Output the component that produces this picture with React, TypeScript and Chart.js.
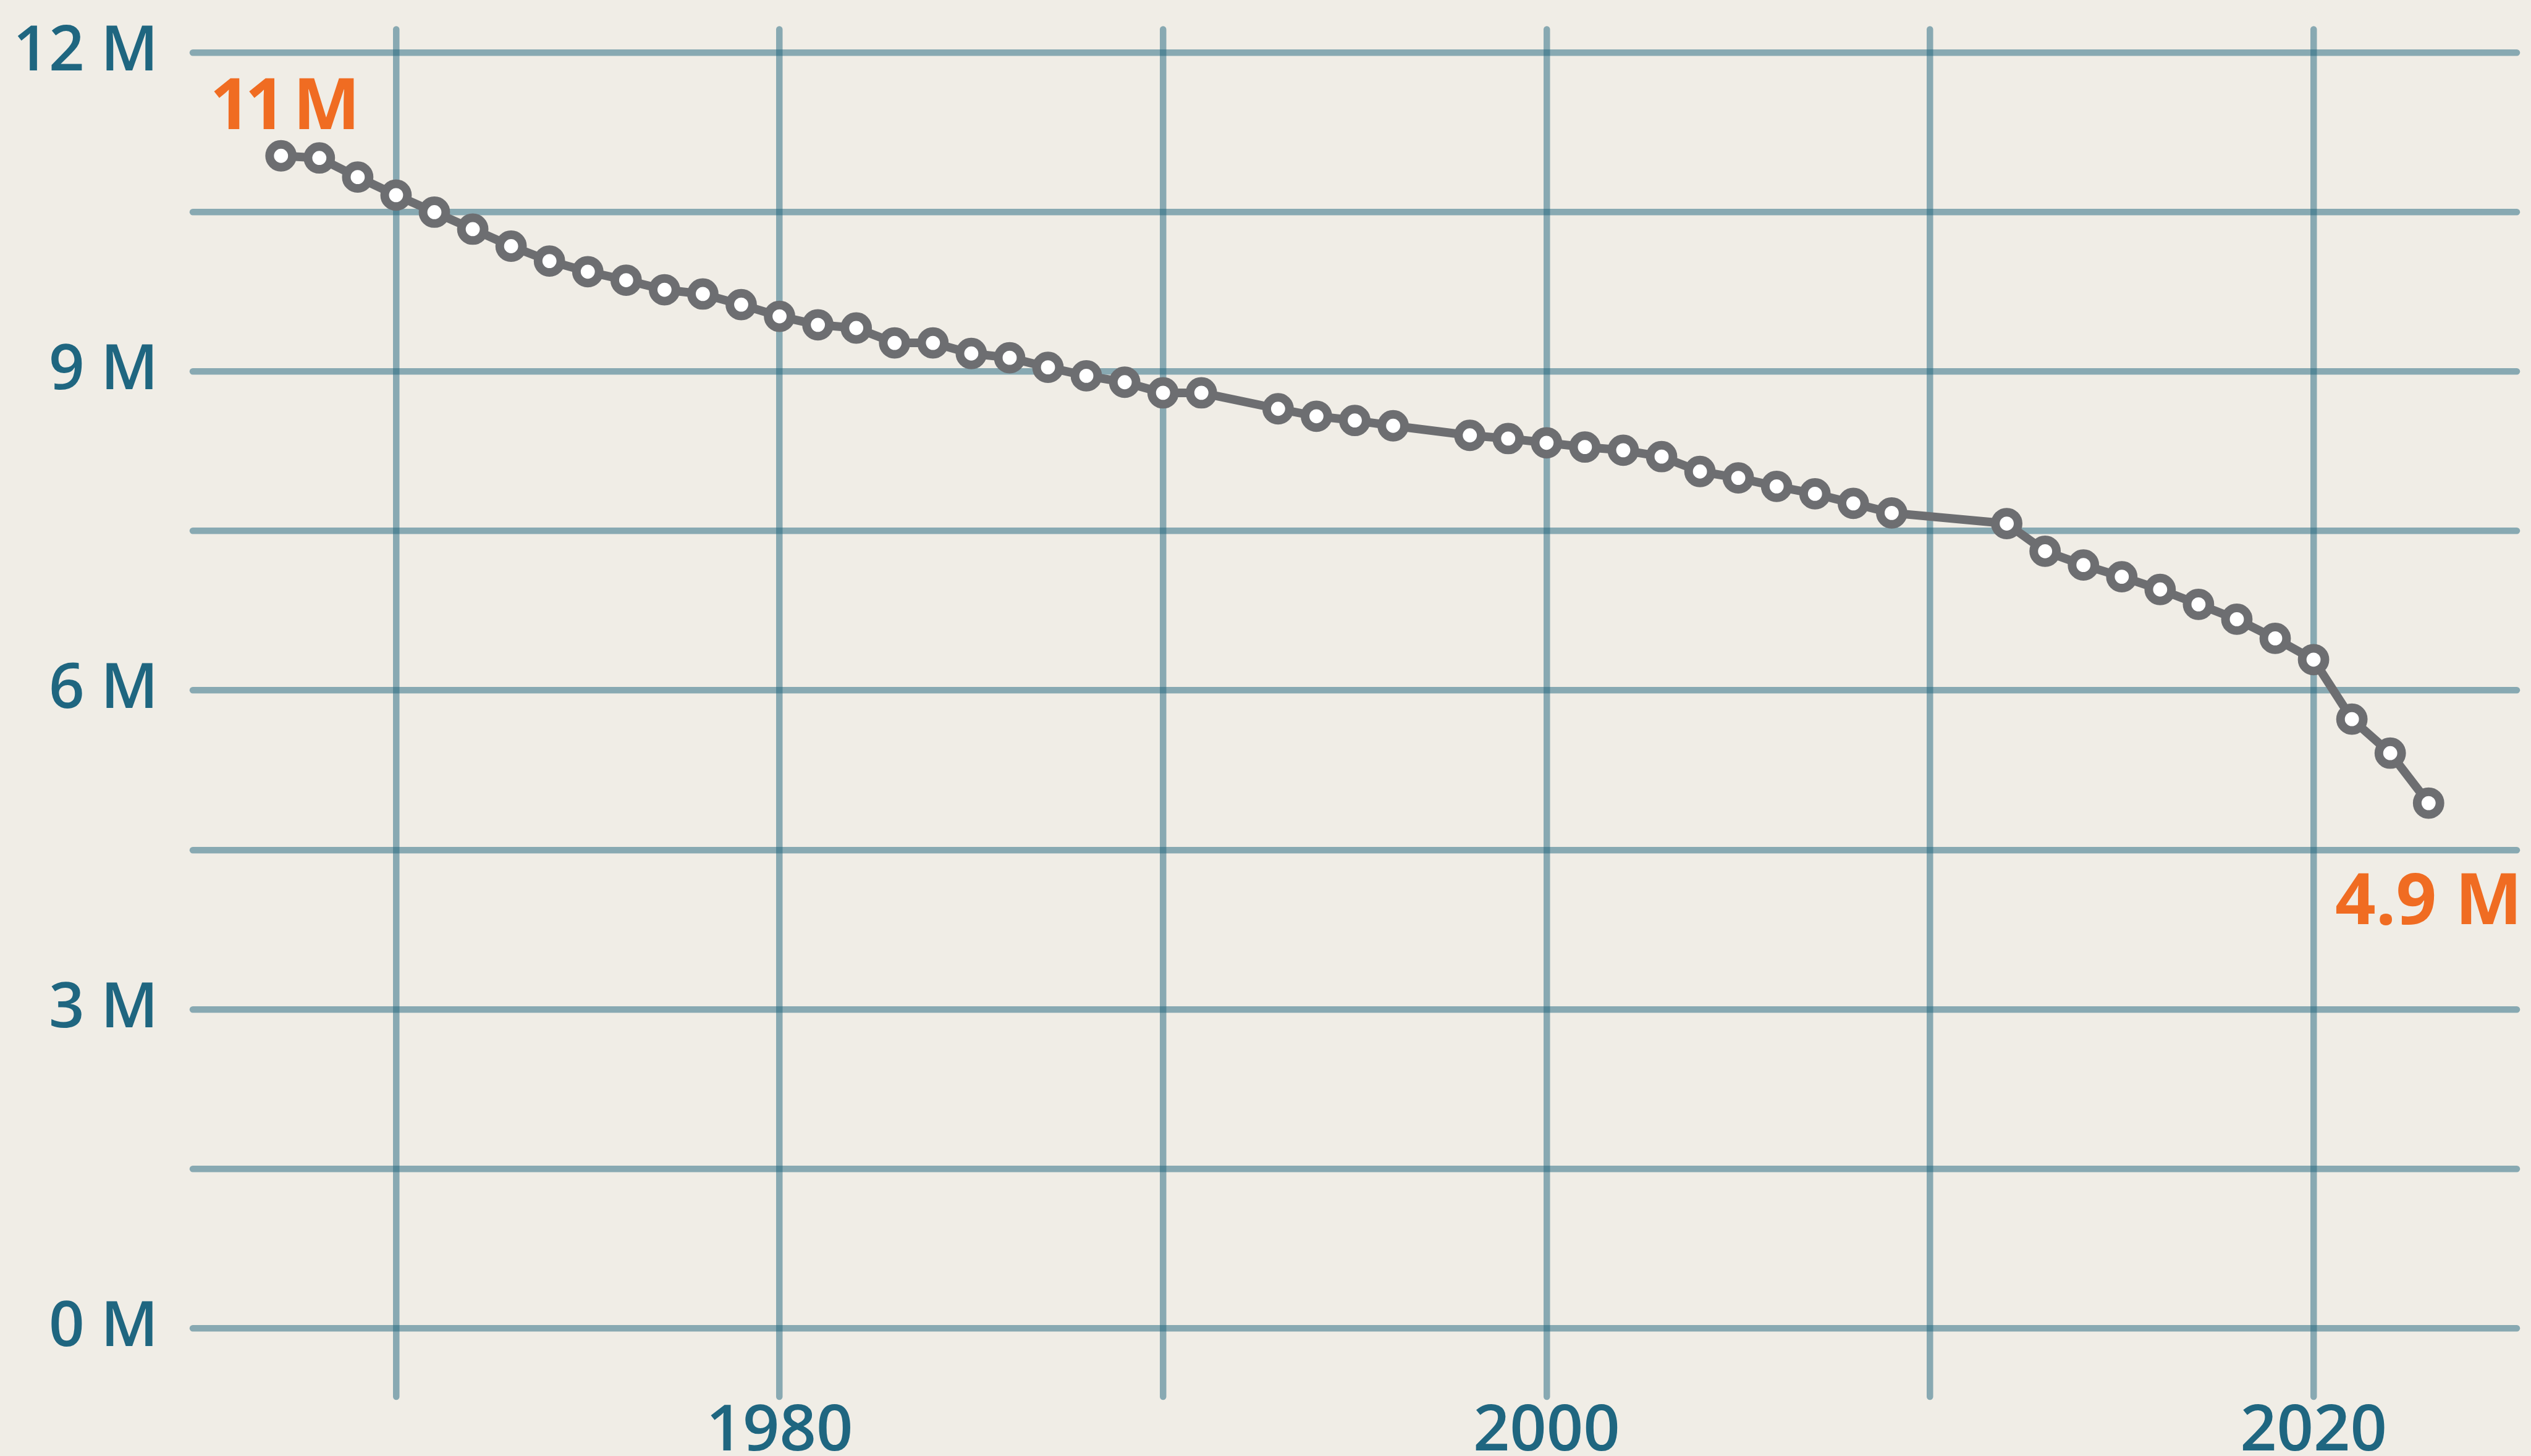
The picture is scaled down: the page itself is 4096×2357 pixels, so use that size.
import React, { useEffect, useRef } from "react";
import { Chart, registerables } from "chart.js";

Chart.register(...registerables);

// ---- Data (population, millions) ----
const years = [
  1967, 1968, 1969, 1970, 1971, 1972, 1973, 1974, 1975, 1976, 1977, 1978, 1979,
  1980, 1981, 1982, 1983, 1984, 1985, 1986, 1987, 1988, 1989, 1990, 1991,
  1993, 1994, 1995, 1996,
  1998, 1999, 2000, 2001, 2002, 2003, 2004, 2005, 2006, 2007, 2008, 2009,
  2012, 2013, 2014, 2015, 2016, 2017, 2018, 2019, 2020, 2021, 2022, 2023,
];
const populationMillions = [
  11.03, 11.01, 10.83, 10.66, 10.5, 10.34, 10.18, 10.04, 9.94, 9.86, 9.77, 9.73, 9.63,
  9.52, 9.44, 9.41, 9.27, 9.27, 9.17, 9.13, 9.04, 8.96, 8.9, 8.8, 8.8,
  8.65, 8.58, 8.54, 8.49,
  8.4, 8.37, 8.33, 8.29, 8.26, 8.2, 8.06, 8.0, 7.92, 7.85, 7.76, 7.67,
  7.57, 7.31, 7.18, 7.07, 6.95, 6.81, 6.67, 6.49, 6.29, 5.73, 5.41, 4.94,
];
const xGridYears = [1970, 1980, 1990, 2000, 2010, 2020];
const xLabelYears = [1980, 2000, 2020];
const yGridValues = [0, 1.5, 3, 4.5, 6, 7.5, 9, 10.5, 12];
const yLabelValues = [0, 3, 6, 9, 12];
const endLabels = ["11 M", "4.9 M"];

// ---- Styling ----
const W = 4096;
const H = 2357;
const BG = "#f0ede6";
const LINE = "#6d6e71";
const GRID = "rgba(31,101,126,0.5)";
const TICK = "#1f6680";
const ORANGE = "#f06c22";
const FONT = "'Open Sans', 'Noto Sans', sans-serif";

const roundCapPlugin = {
  id: "roundCaps",
  beforeDraw(chart: any) {
    chart.ctx.lineCap = "round";
  },
};

const endLabelPlugin = {
  id: "endLabels",
  afterDatasetsDraw(chart: any) {
    const ctx = chart.ctx;
    const xs = chart.scales.x;
    const ys = chart.scales.y;
    const n = years.length;
    const fx = xs.getPixelForValue(years[0]);
    const fy = ys.getPixelForValue(populationMillions[0]);
    const lx = xs.getPixelForValue(years[n - 1]);
    const ly = ys.getPixelForValue(populationMillions[n - 1]);
    ctx.save();
    ctx.fillStyle = ORANGE;
    ctx.font = `700 115px ${FONT}`;
    ctx.textAlign = "center";
    ctx.textBaseline = "alphabetic";
    try {
      (ctx as any).letterSpacing = "-9px";
    } catch (e) {}
    ctx.fillText(endLabels[0], fx + 2, fy - 43);
    try {
      (ctx as any).letterSpacing = "0px";
    } catch (e) {}
    ctx.fillText(endLabels[1], lx, ly + 196);
    ctx.restore();
  },
};

export default function App() {
  const ref = useRef<HTMLCanvasElement>(null);

  useEffect(() => {
    document.body.style.margin = "0";
    document.body.style.background = BG;
    const canvas = ref.current;
    if (!canvas) return;
    const tickFont = { family: FONT, size: 101, weight: "600" as any, lineHeight: 1.1 };
    const chart = new Chart(canvas, {
      type: "line",
      data: {
        datasets: [
          {
            data: years.map((y, i) => ({ x: y, y: populationMillions[i] })),
            borderColor: LINE,
            borderWidth: 14,
            borderJoinStyle: "round",
            borderCapStyle: "round",
            pointRadius: 18.4,
            pointBorderWidth: 14,
            pointBackgroundColor: "#ffffff",
            pointBorderColor: LINE,
            pointHoverRadius: 18.4,
            tension: 0,
            clip: false as any,
          },
        ],
      },
      options: {
        responsive: false,
        animation: false,
        devicePixelRatio: 1,
        events: [],
        layout: { autoPadding: false, padding: { top: 47.5, right: 23, left: 0, bottom: 0 } },
        plugins: { legend: { display: false }, tooltip: { enabled: false } },
        scales: {
          x: {
            type: "linear",
            min: 1964.7,
            max: 2025.3,
            afterBuildTicks: (s: any) => {
              s.ticks = xGridYears.map((v) => ({ value: v }));
            },
            afterFit: (s: any) => {
              s.height = 96;
              s.paddingLeft = 0;
              s.paddingRight = 0;
            },
            grid: { color: GRID, lineWidth: 10.5, drawTicks: false },
            border: { display: false },
            ticks: {
              autoSkip: false,
              maxRotation: 0,
              minRotation: 0,
              padding: 0,
              color: TICK,
              font: { ...tickFont, size: 104 },
              callback: (v: any) => (xLabelYears.includes(Number(v)) ? String(v) : ""),
            },
          },
          y: {
            type: "linear",
            min: -0.645,
            max: 12.22,
            afterBuildTicks: (s: any) => {
              s.ticks = yGridValues.map((v) => ({ value: v }));
            },
            afterFit: (s: any) => {
              s.width = 312;
              s.paddingTop = 0;
              s.paddingBottom = 0;
            },
            grid: { color: GRID, lineWidth: 10.5, drawTicks: false },
            border: { display: false },
            ticks: {
              autoSkip: false,
              padding: 56,
              color: TICK,
              font: tickFont,
              callback: (v: any) => (yLabelValues.includes(Number(v)) ? `${v} M` : ""),
            },
          },
        },
      },
      plugins: [roundCapPlugin, endLabelPlugin],
    });
    return () => chart.destroy();
  }, []);

  return (
    <div style={{ position: "fixed", left: 0, top: 0, width: W, height: H, background: BG }}>
      <canvas ref={ref} width={W} height={H} style={{ display: "block", width: W, height: H }} />
    </div>
  );
}
